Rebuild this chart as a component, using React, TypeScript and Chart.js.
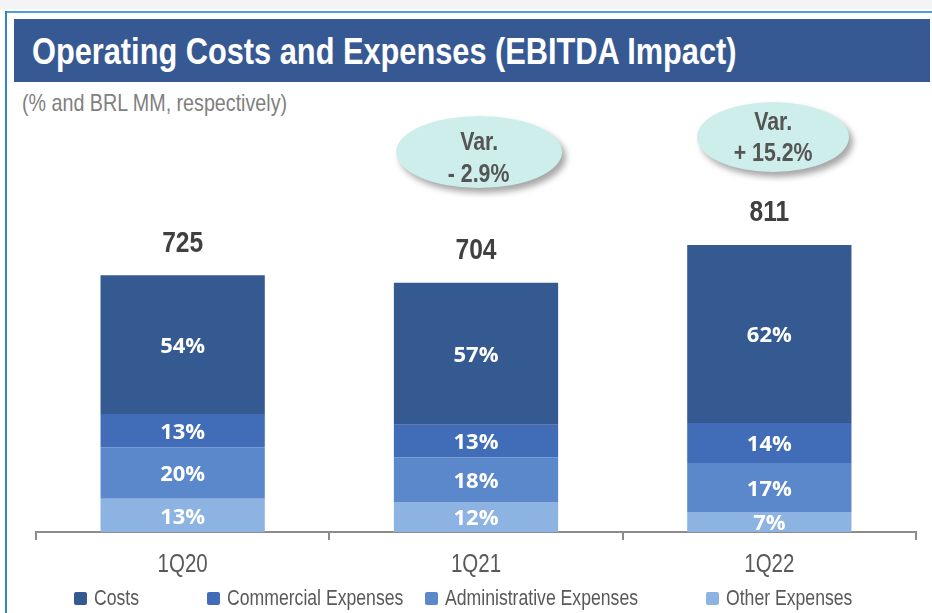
import React, { useEffect, useRef } from "react";
import { Chart, registerables } from "chart.js";

Chart.register(...registerables);

const categories = ["1Q20", "1Q21", "1Q22"];
const totals = [725, 704, 811];
const costsPct = [54, 57, 62];
const commercialPct = [13, 13, 14];
const adminPct = [20, 18, 17];
const otherPct = [13, 12, 7];
const seriesNames = ["Costs", "Commercial Expenses", "Administrative Expenses", "Other Expenses"];
const seriesColors = ["#355A92", "#416DB8", "#5B87CB", "#8DB3E2"];
const variationLines = [["Var.", "- 2.9%"], ["Var.", "+ 15.2%"]];

const SANS = "'Liberation Sans', Arial, sans-serif";
const NARROW_SCALE = 0.82;

function narrowText(ctx: CanvasRenderingContext2D, text: string, x: number, y: number) {
  ctx.save();
  ctx.translate(x, y);
  ctx.scale(NARROW_SCALE, 1);
  ctx.fillText(text, 0, 0);
  ctx.restore();
}

const labelsPlugin = {
  id: "segLabels",
  afterDraw(chart: any) {
    const ctx = chart.ctx;
    ctx.save();
    ctx.textAlign = "center";
    ctx.textBaseline = "middle";
    chart.data.datasets.forEach((ds: any, di: number) => {
      const meta = chart.getDatasetMeta(di);
      meta.data.forEach((bar: any, i: number) => {
        const yMid = (bar.y + bar.base) / 2;
        ctx.fillStyle = "#FFFFFF";
        ctx.font = "bold 22px 'Open Sans', sans-serif";
        ctx.fillText(ds.pct[i] + "%", bar.x, yMid + 2);
        if (di === chart.data.datasets.length - 1) {
          ctx.fillStyle = "#404040";
          ctx.font = "bold 30px " + SANS;
          narrowText(ctx, String(totals[i]), bar.x, bar.y - 32);
        }
      });
    });
    const xs = chart.scales.x;
    ctx.fillStyle = "#595959";
    ctx.font = "25px " + SANS;
    categories.forEach((c, i) => {
      narrowText(ctx, c, xs.getPixelForValue(i), xs.top + 33);
    });
    ctx.restore();
  },
};

const Narrow = ({ children, origin = "left center", style = {} }: any) => (
  <span style={{ display: "inline-block", transform: `scaleX(${NARROW_SCALE})`, transformOrigin: origin, whiteSpace: "nowrap", ...style }}>
    {children}
  </span>
);

export default function App() {
  const canvasRef = useRef<HTMLCanvasElement>(null);

  useEffect(() => {
    const stackDefs = [
      { name: seriesNames[3], pct: otherPct, color: seriesColors[3] },
      { name: seriesNames[2], pct: adminPct, color: seriesColors[2] },
      { name: seriesNames[1], pct: commercialPct, color: seriesColors[1] },
      { name: seriesNames[0], pct: costsPct, color: seriesColors[0] },
    ];
    const chart = new Chart(canvasRef.current as HTMLCanvasElement, {
      type: "bar",
      data: {
        labels: categories,
        datasets: stackDefs.map((s) => ({
          label: s.name,
          data: s.pct.map((p, i) => (totals[i] * p) / 100),
          pct: s.pct,
          backgroundColor: s.color,
          borderWidth: 0,
          categoryPercentage: 0.56,
          barPercentage: 1,
        })) as any,
      },
      options: {
        responsive: false,
        animation: false,
        devicePixelRatio: 1,
        layout: { padding: { left: 36, right: 16, top: 178, bottom: 0 } },
        plugins: { legend: { display: false }, tooltip: { enabled: false } },
        scales: {
          x: {
            stacked: true,
            afterFit: (scale: any) => {
              scale.height = 81;
            },
            border: { display: true, color: "#8C8C8C", width: 2 },
            grid: {
              display: true,
              drawOnChartArea: false,
              drawTicks: true,
              tickLength: 8,
              color: "#8C8C8C",
              lineWidth: 2,
              offset: true,
            },
            ticks: { display: false },
          },
          y: {
            stacked: true,
            display: false,
            min: 0,
            max: 1000,
          },
        },
      },
      plugins: [labelsPlugin],
    });
    return () => chart.destroy();
  }, []);

  const ellipse = (lines: string[], left: number, top: number, w: number, h: number, lineYs: number[]) => (
    <>
      <div
        style={{
          position: "absolute",
          left,
          top,
          width: w,
          height: h,
          borderRadius: "50%",
          background: "#CDEEEA",
          boxShadow: "4px 5px 6px rgba(0,0,0,0.35)",
        }}
      />
      {lines.map((t, i) => (
        <div
          key={i}
          style={{
            position: "absolute",
            left,
            width: w,
            top: lineYs[i] - 15,
            height: 30,
            lineHeight: "30px",
            textAlign: "center",
            color: "#555555",
            fontFamily: SANS,
            fontWeight: "bold",
            fontSize: 26,
          }}
        >
          <Narrow origin="center center">{t}</Narrow>
        </div>
      ))}
    </>
  );

  const legendLefts = [74, 207, 425, 706];

  return (
    <div style={{ position: "fixed", left: 0, top: 0, width: 932, height: 613, background: "#FFFFFF", overflow: "hidden" }}>
      <div style={{ position: "absolute", left: 0, top: 0, width: 932, height: 9, background: "#F4F4F6" }} />
      <div style={{ position: "absolute", left: 5, top: 11, width: 927, height: 2, background: "#4A9FD8" }} />
      <div style={{ position: "absolute", left: 5, top: 11, width: 2, height: 602, background: "#2E86C8" }} />
      <div style={{ position: "absolute", left: 14, top: 19, width: 916, height: 63, background: "#365993" }} />
      <div
        style={{
          position: "absolute",
          left: 32,
          top: 20,
          height: 63,
          lineHeight: "63px",
          color: "#FFFFFF",
          fontFamily: SANS,
          fontWeight: "bold",
          fontSize: 37.5,
        }}
      >
        <Narrow>Operating Costs and Expenses (EBITDA Impact)</Narrow>
      </div>
      <div
        style={{
          position: "absolute",
          left: 22,
          top: 89,
          lineHeight: "28px",
          color: "#7F7F7F",
          fontFamily: SANS,
          fontSize: 24,
        }}
      >
        <Narrow>(% and BRL MM, respectively)</Narrow>
      </div>
      <canvas ref={canvasRef} width={932} height={613} style={{ position: "absolute", left: 0, top: 0, width: 932, height: 613 }} />
      {ellipse(variationLines[0], 396, 116, 166, 72, [141, 173])}
      {ellipse(variationLines[1], 697, 102, 152, 70, [121, 152])}
      {seriesNames.map((n, i) => (
        <div
          key={n}
          style={{
            position: "absolute",
            left: legendLefts[i],
            top: 584,
            height: 28,
            display: "flex",
            alignItems: "center",
            whiteSpace: "nowrap",
          }}
        >
          <div style={{ width: 13, height: 13, background: seriesColors[i], borderRadius: 2, marginRight: 7 }} />
          <span style={{ color: "#595959", fontFamily: SANS, fontSize: 21.5 }}>
            <Narrow>{n}</Narrow>
          </span>
        </div>
      ))}
    </div>
  );
}
